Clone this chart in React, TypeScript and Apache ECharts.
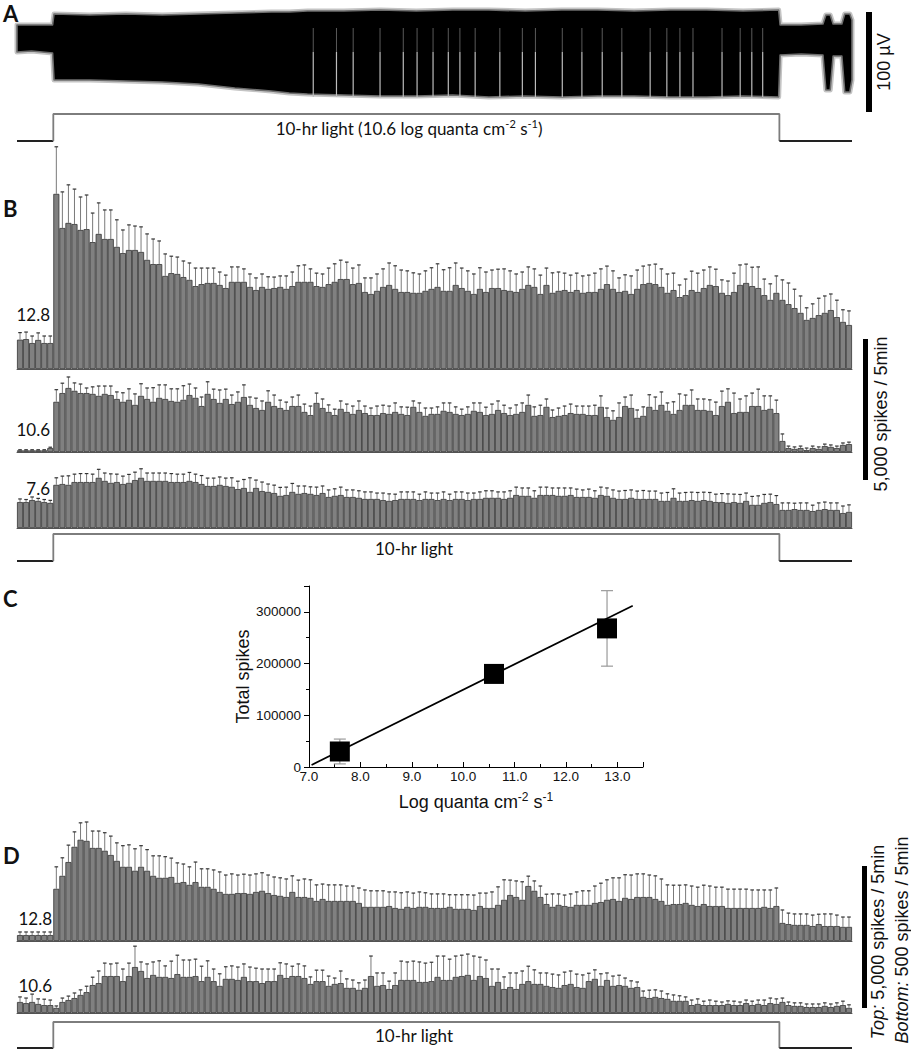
import React, { useEffect, useRef } from "react";
import * as echarts from "echarts";

// ---------------- 5-min bins: 0.5 h dark, 10 h light, 1 h dark (138 bins) ----------------
const binLabels = Array.from({ length: 138 }, (_, i) => String(i));

// Panel B, 12.8 log quanta (spikes / 5 min)
const b128Mean = [
  1040, 1060, 920, 1030, 920, 920,
  6210, 5000, 5180, 5140, 4930, 4960, 4500, 4790, 4610, 4610,
  4330, 4110, 4220, 4220, 4150, 3870, 3720, 3720, 3300, 3400,
  3370, 3260, 3160, 2940, 3010, 3050, 3050, 2980, 2870, 3090,
  3090, 3090, 2910, 2800, 2910, 2840, 2870, 2910, 2840, 2940,
  3090, 3090, 3090, 2940, 2910, 3010, 3090, 3190, 3190, 3010,
  3050, 2730, 2660, 2770, 2910, 2980, 2840, 2730, 2730, 2700,
  2700, 2770, 2840, 2910, 2770, 2770, 2980, 2870, 2770, 2660,
  2840, 2730, 2870, 2870, 2800, 2770, 2730, 2840, 2980, 2910,
  2660, 2980, 2700, 2770, 2800, 2730, 2800, 2700, 2730, 2730,
  2840, 3010, 2840, 2730, 2770, 2660, 2840, 3010, 3050, 3010,
  2910, 2700, 2800, 2550, 2620, 2800, 2730, 2870, 2980, 2940,
  2700, 2620, 2730, 2980, 3050, 2940, 2870, 2620, 2450, 2700,
  2450, 2300, 2160, 1990, 1740, 1810, 1910, 1990, 2090, 1840,
  1670, 1560,
];
const b128Err = [
  250, 250, 250, 250, 250, 250,
  1670, 1280, 1350, 1240, 1170, 1210, 1030, 1100, 1030, 1030,
  960, 820, 890, 850, 890, 920, 890, 820, 780, 600,
  600, 570, 600, 640, 570, 530, 530, 460, 460, 530,
  530, 460, 460, 430, 460, 430, 390, 390, 460, 500,
  570, 600, 460, 460, 460, 570, 640, 670, 600, 570,
  640, 500, 570, 600, 640, 780, 820, 780, 750, 710,
  670, 710, 750, 820, 750, 820, 780, 710, 710, 710,
  750, 710, 640, 670, 750, 710, 640, 600, 640, 640,
  670, 600, 710, 670, 600, 600, 600, 600, 600, 670,
  710, 640, 640, 500, 570, 640, 670, 640, 640, 710,
  640, 670, 600, 430, 570, 670, 670, 640, 640, 600,
  460, 500, 670, 710, 670, 670, 750, 570, 570, 600,
  710, 750, 670, 600, 430, 500, 600, 600, 570, 600,
  430, 500,
];

// Panel B, 10.6 log quanta
const b106Mean = [
  60, 60, 60, 60, 60, 140,
  1780, 2090, 2270, 2170, 2090, 2090, 2060, 1990, 2060, 2020,
  1880, 1780, 1850, 1670, 1990, 1880, 1780, 1920, 1880, 1810,
  1780, 1850, 2020, 1920, 1630, 2060, 1880, 1740, 1880, 1700,
  1780, 1950, 1670, 1560, 1490, 1780, 1630, 1560, 1490, 1630,
  1630, 1420, 1310, 1740, 1560, 1420, 1310, 1530, 1420, 1350,
  1490, 1380, 1310, 1310, 1380, 1350, 1420, 1350, 1310, 1600,
  1420, 1280, 1350, 1350, 1460, 1420, 1350, 1310, 1350, 1460,
  1420, 1310, 1350, 1490, 1380, 1310, 1350, 1420, 1670, 1280,
  1310, 1600, 1240, 1280, 1310, 1380, 1350, 1350, 1310, 1310,
  1600, 1240, 1140, 1240, 1630, 1560, 1210, 1280, 1600, 1490,
  1670, 1460, 1350, 1490, 1670, 1670, 1490, 1490, 1460, 1310,
  1630, 1780, 1380, 1420, 1420, 1630, 1630, 1490, 1530, 1380,
  390, 140, 110, 140, 70, 140, 110, 210, 180, 140,
  250, 280,
];
const b106Err = [
  20, 20, 20, 20, 20, 30,
  430, 350, 390, 280, 320, 180, 250, 350, 280, 320,
  250, 320, 390, 390, 430, 390, 500, 460, 500, 430,
  460, 500, 390, 350, 320, 430, 350, 460, 350, 320,
  350, 430, 280, 350, 320, 390, 390, 280, 280, 320,
  390, 280, 320, 350, 320, 250, 210, 280, 280, 280,
  320, 250, 250, 320, 280, 280, 320, 250, 280, 210,
  320, 280, 210, 250, 280, 320, 250, 210, 250, 280,
  320, 280, 350, 320, 280, 250, 320, 320, 350, 320,
  350, 280, 250, 280, 320, 320, 280, 280, 320, 350,
  390, 320, 320, 500, 320, 460, 280, 320, 430, 460,
  460, 280, 430, 570, 350, 530, 390, 390, 390, 460,
  530, 460, 710, 460, 570, 460, 600, 500, 460, 460,
  250, 70, 70, 70, 70, 70, 70, 70, 70, 70,
  70, 70,
];

// Panel B, 7.6 log quanta
const b76Mean = [
  920, 920, 990, 960, 920, 890,
  1530, 1560, 1530, 1630, 1630, 1630, 1630, 1780, 1670, 1600,
  1630, 1560, 1600, 1700, 1780, 1670, 1670, 1670, 1670, 1630,
  1630, 1630, 1670, 1630, 1560, 1490, 1490, 1530, 1490, 1460,
  1380, 1420, 1280, 1420, 1310, 1280, 1240, 1140, 1170, 1280,
  1210, 1240, 1210, 1170, 1240, 1100, 1140, 1170, 1100, 1100,
  1070, 1030, 1030, 1030, 990, 960, 990, 1030, 1030, 1030,
  990, 1030, 1030, 990, 1030, 990, 1030, 1030, 990, 1030,
  1030, 1070, 1070, 1070, 1030, 1070, 1170, 1140, 1140, 1070,
  1170, 1170, 1170, 1140, 1140, 1170, 1100, 1100, 1100, 1070,
  1170, 1140, 1070, 1030, 1030, 1070, 1030, 1030, 1030, 1030,
  960, 960, 1070, 960, 960, 990, 960, 990, 960, 920,
  920, 890, 920, 890, 960, 820, 820, 890, 920, 850,
  640, 640, 670, 640, 640, 600, 640, 670, 640, 640,
  530, 570,
];
const b76Err = [
  110, 90, 110, 90, 90, 90,
  250, 280, 320, 280, 300, 300, 280, 300, 280, 320,
  280, 280, 300, 280, 320, 280, 280, 280, 280, 300,
  280, 280, 300, 280, 300, 280, 280, 280, 280, 320,
  280, 300, 500, 280, 320, 280, 280, 300, 280, 300,
  280, 250, 250, 280, 250, 250, 250, 280, 250, 250,
  250, 250, 250, 210, 250, 250, 210, 250, 250, 250,
  210, 250, 210, 250, 250, 210, 250, 250, 250, 210,
  250, 250, 250, 210, 250, 250, 280, 280, 280, 250,
  280, 280, 250, 280, 280, 250, 280, 250, 280, 250,
  280, 280, 280, 280, 300, 280, 280, 300, 280, 280,
  280, 300, 320, 280, 300, 280, 300, 280, 300, 280,
  300, 320, 280, 300, 280, 300, 320, 300, 280, 300,
  250, 250, 210, 250, 250, 210, 250, 250, 250, 250,
  250, 250,
];

// Panel D, 12.8 log quanta (top, 5,000 spikes scale)
const d128Mean = [
  210, 210, 210, 210, 210, 210,
  1850, 2310, 2800, 3340, 3590, 3550, 3300, 3300, 3200, 3050,
  2840, 2630, 2630, 2490, 2630, 2490, 2310, 2240, 2240, 2270,
  2060, 2090, 1990, 2090, 1920, 1920, 1850, 1740, 1670, 1670,
  1700, 1700, 1670, 1740, 1780, 1700, 1630, 1600, 1560, 1740,
  1560, 1560, 1530, 1420, 1490, 1420, 1420, 1420, 1420, 1420,
  1350, 1210, 1210, 1210, 1210, 1240, 1170, 1140, 1210, 1170,
  1210, 1210, 1170, 1170, 1170, 1210, 1140, 1140, 1140, 1100,
  1240, 1170, 1170, 1280, 1460, 1630, 1560, 1460, 1950, 1780,
  1560, 1310, 1210, 1280, 1240, 1210, 1280, 1280, 1280, 1350,
  1380, 1460, 1490, 1420, 1530, 1490, 1560, 1560, 1560, 1490,
  1420, 1280, 1310, 1310, 1350, 1280, 1240, 1310, 1240, 1240,
  1240, 1170, 1170, 1170, 1170, 1170, 1170, 1210, 1170, 1240,
  640, 600, 570, 570, 570, 530, 600, 530, 530, 530,
  500, 500,
];
const d128Err = [
  110, 110, 110, 110, 110, 110,
  780, 640, 600, 530, 600, 670, 600, 600, 640, 670,
  640, 750, 780, 780, 750, 750, 710, 780, 750, 670,
  710, 640, 640, 710, 640, 640, 670, 710, 670, 710,
  640, 670, 670, 640, 640, 640, 640, 640, 640, 570,
  600, 640, 640, 570, 530, 570, 570, 570, 530, 530,
  530, 600, 570, 570, 570, 500, 570, 570, 530, 530,
  530, 500, 500, 500, 500, 430, 500, 500, 500, 530,
  460, 530, 570, 640, 710, 530, 570, 640, 350, 350,
  390, 350, 460, 390, 390, 460, 460, 500, 500, 600,
  670, 710, 750, 820, 820, 850, 820, 820, 780, 820,
  780, 710, 670, 670, 640, 670, 670, 670, 710, 670,
  670, 670, 670, 670, 670, 640, 640, 600, 640, 640,
  460, 390, 390, 390, 390, 390, 350, 430, 430, 390,
  350, 350,
];

// Panel D, 10.6 log quanta (bottom, 500 spikes scale)
const d106Mean = [
  39, 35, 39, 32, 28, 28,
  18, 39, 46, 53, 64, 74, 99, 106, 131, 131,
  131, 113, 131, 163, 149, 124, 135, 128, 128, 124,
  138, 128, 128, 131, 113, 128, 113, 96, 121, 121,
  117, 128, 113, 113, 106, 113, 113, 135, 124, 131,
  131, 124, 103, 113, 113, 96, 103, 106, 89, 89,
  82, 89, 131, 96, 99, 85, 99, 117, 117, 117,
  110, 110, 113, 128, 117, 117, 128, 131, 135, 117,
  131, 124, 96, 110, 85, 92, 85, 103, 113, 103,
  103, 96, 92, 89, 99, 103, 92, 89, 113, 121,
  96, 117, 96, 99, 96, 89, 92, 57, 53, 57,
  53, 50, 43, 43, 43, 28, 32, 28, 28, 28,
  28, 32, 28, 28, 35, 28, 32, 28, 35, 32,
  39, 28, 25, 25, 21, 21, 21, 25, 21, 25,
  28, 18,
];
const d106Err = [
  18, 18, 28, 18, 21, 18,
  7, 14, 14, 18, 18, 21, 28, 43, 46, 43,
  46, 43, 46, 74, 32, 50, 46, 57, 39, 60,
  67, 60, 60, 60, 53, 57, 43, 43, 43, 46,
  46, 46, 50, 46, 50, 43, 43, 43, 50, 35,
  43, 43, 25, 39, 39, 35, 21, 43, 32, 28,
  25, 28, 71, 46, 43, 28, 43, 67, 64, 67,
  71, 67, 67, 74, 85, 74, 74, 74, 74, 85,
  67, 64, 60, 46, 43, 50, 57, 46, 53, 50,
  39, 46, 46, 46, 46, 46, 46, 46, 28, 32,
  43, 25, 35, 35, 28, 25, 18, 21, 28, 25,
  25, 18, 21, 18, 14, 18, 18, 14, 18, 14,
  11, 11, 14, 11, 11, 14, 14, 18, 18, 18,
  14, 11, 11, 11, 11, 11, 11, 11, 11, 11,
  14, 11,
];

// ---------------- Panel A: extracellular trace envelope (µV) ----------------
const traceHours = [-0.5, -0.3, -0.01, 0.01, 0.5, 1, 1.5, 2, 2.5, 3, 3.25, 3.5, 4, 4.5, 5, 5.5, 6, 6.5, 7, 7.5, 8, 8.5, 9, 9.5, 9.99, 10.01, 10.3, 10.6, 10.64, 10.7, 10.74, 10.86, 10.9, 10.97, 11.0];
const traceUpperUV = [25, 25, 25, 36, 35, 36, 35, 36, 37, 38, 38, 39, 39, 40, 39, 40, 40, 39, 40, 40, 39, 40, 40, 39, 40, 25, 25, 26, 35, 35, 26, 26, 36, 36, 30];
const traceLowerUV = [-2, -1, -3, -30, -30, -31, -32, -34, -38, -41, -43, -44, -45, -46, -46, -45, -47, -46, -47, -46, -46, -47, -47, -46, -47, -5, -4, -5, -40, -40, -6, -6, -42, -42, -30];
const pauseHours = [3.58, 3.9, 4.13, 4.5, 4.82, 5.01, 5.23, 5.44, 5.6, 5.81, 6.15, 6.46, 6.64, 7.01, 7.28, 7.56, 7.83, 8.22, 8.45, 8.63, 8.81, 9.21, 9.46, 9.62, 9.77];

// ---------------- Light protocol ----------------
const lightOnHours = [0, 0, 10, 10];
const lightOnLevel = [0, 1, 1, 0];
const darkPreHours = [-0.5, 0];
const darkPostHours = [10, 11];

// ---------------- Panel C ----------------
const quantaLog = [7.6, 10.6, 12.8];
const totalSpikes = [30000, 180000, 268000];
const totalSpikesErr = [24000, 16000, 73000];
const fitLog = [7.05, 13.3];
const fitSpikes = [4000, 312000];

const CAL = "Lato, 'Open Sans', sans-serif";
const ARIAL = "'Liberation Sans', Arial, sans-serif";

const gridDefs = [
  { left: 17, width: 835, top: 0, height: 100 },
  { left: 17, width: 835, top: 114, height: 27 },
  { left: 17, width: 835, top: 143.4, height: 225.6 },
  { left: 17, width: 835, top: 367.4, height: 84.6 },
  { left: 17, width: 835, top: 471.6, height: 56.4 },
  { left: 17, width: 835, top: 534, height: 27 },
  { left: 309, width: 334, top: 586, height: 181 },
  { left: 17, width: 835, top: 800, height: 141 },
  { left: 17, width: 835, top: 928.4, height: 84.6 },
  { left: 17, width: 835, top: 1022, height: 26 },
];

function hiddenVal(gi: number, min: number, max: number) {
  return { gridIndex: gi, type: "value", min, max, show: false, splitLine: { show: false } };
}
function catAxis(gi: number) {
  return {
    gridIndex: gi,
    type: "category",
    data: binLabels,
    boundaryGap: true,
    axisLine: { show: true, lineStyle: { color: "#555", width: 1 } },
    axisTick: { show: false },
    axisLabel: { show: false },
    splitLine: { show: false },
  };
}
function barSeries(ai: number, mean: number[]) {
  return {
    type: "bar",
    xAxisIndex: ai,
    yAxisIndex: ai,
    data: mean,
    barCategoryGap: "0%",
    barGap: "0%",
    silent: true,
    z: 2,
    itemStyle: { color: "#808080", borderColor: "#333", borderWidth: 0.8 },
  };
}
function errSeries(ai: number, mean: number[], err: number[]) {
  return {
    type: "custom",
    xAxisIndex: ai,
    yAxisIndex: ai,
    silent: true,
    clip: false,
    z: 3,
    data: mean.map((v, i) => [i, v, err[i]]),
    renderItem: (_p: any, api: any) => {
      const i = api.value(0);
      const v = api.value(1);
      const e = api.value(2);
      const p0 = api.coord([i, v]);
      const p1 = api.coord([i, v + e]);
      return {
        type: "group",
        children: [
          { type: "line", shape: { x1: p0[0], y1: p0[1], x2: p1[0], y2: p1[1] }, style: { stroke: "#7a7a7a", lineWidth: 1 } },
          { type: "line", shape: { x1: p1[0] - 1.8, y1: p1[1], x2: p1[0] + 1.8, y2: p1[1] }, style: { stroke: "#333", lineWidth: 1.2 } },
        ],
      };
    },
  };
}
function lightSeries(ai: number) {
  const base = { type: "line", xAxisIndex: ai, yAxisIndex: ai, symbol: "none", showSymbol: false, clip: false, silent: true };
  return [
    { ...base, data: darkPreHours.map((h) => [h, 0]), lineStyle: { color: "#222", width: 2 } },
    { ...base, data: lightOnHours.map((h, k) => [h, lightOnLevel[k]]), lineStyle: { color: "#7d7d7d", width: 1.8 } },
    { ...base, data: darkPostHours.map((h) => [h, 0]), lineStyle: { color: "#222", width: 2 } },
  ];
}

function txt(text: string, x: number, y: number, o: any = {}) {
  const align = o.align || "left";
  const va = o.va || "middle";
  return {
    type: "text",
    x,
    y,
    rotation: o.rot || 0,
    silent: true,
    style: {
      text,
      fill: o.color || "#111",
      fontSize: o.size || 17,
      fontFamily: o.family || CAL,
      fontWeight: o.weight || "normal",
      fontStyle: o.style || "normal",
      align,
      textAlign: align,
      verticalAlign: va,
      textVerticalAlign: va,
      lineHeight: o.lineHeight,
      rich: o.rich,
    },
  };
}

function tracePolygon(api: any) {
  const pts: number[][] = [];
  for (let k = 0; k < traceHours.length; k++) pts.push(api.coord([traceHours[k], traceUpperUV[k]]));
  for (let k = traceHours.length - 1; k >= 0; k--) pts.push(api.coord([traceHours[k], traceLowerUV[k]]));
  return pts;
}

function buildOption() {
  const supRich = (size: number, fam: string) => ({
    sup: { fontSize: size, fontFamily: fam, fill: "#111", color: "#111", verticalAlign: "top", lineHeight: size + 1 },
    it: { fontStyle: "italic", fontSize: 18, fontFamily: ARIAL, fill: "#111", color: "#111" },
  });

  const xAxis: any[] = [
    hiddenVal(0, -0.5, 11),
    hiddenVal(1, -0.5, 11),
    catAxis(2),
    catAxis(3),
    catAxis(4),
    hiddenVal(5, -0.5, 11),
    {
      gridIndex: 6,
      type: "value",
      min: 7,
      max: 13.5,
      interval: 1,
      axisLine: { show: true, onZero: false, lineStyle: { color: "#000", width: 1 } },
      axisTick: { show: true, inside: true, length: 5, lineStyle: { color: "#000" } },
      minorTick: { show: true, splitNumber: 2, length: 3, lineStyle: { color: "#000" } },
      splitLine: { show: false },
      minorSplitLine: { show: false },
      axisLabel: {
        margin: 2,
        fontFamily: ARIAL,
        fontSize: 13.5,
        color: "#111",
        formatter: (v: number) => (v > 13.01 ? "" : v.toFixed(1)),
      },
      name: "Log quanta cm{sup|-2} s{sup|-1}",
      nameLocation: "middle",
      nameGap: 24,
      nameTextStyle: { fontFamily: ARIAL, fontSize: 18, color: "#111", lineHeight: 22, rich: supRich(12, ARIAL) },
    },
    catAxis(7),
    catAxis(8),
    hiddenVal(9, -0.5, 11),
  ];
  const yAxis: any[] = [
    hiddenVal(0, -50, 50),
    hiddenVal(1, 0, 1),
    hiddenVal(2, 0, 8000),
    hiddenVal(3, 0, 3000),
    hiddenVal(4, 0, 2000),
    hiddenVal(5, 0, 1),
    {
      gridIndex: 6,
      type: "value",
      min: 0,
      max: 350000,
      interval: 100000,
      axisLine: { show: true, lineStyle: { color: "#000", width: 1 } },
      axisTick: { show: true, length: 5, lineStyle: { color: "#000" } },
      minorTick: { show: true, splitNumber: 2, length: 3, lineStyle: { color: "#000" } },
      splitLine: { show: false },
      minorSplitLine: { show: false },
      axisLabel: {
        margin: 8,
        fontFamily: ARIAL,
        fontSize: 13.5,
        color: "#111",
        formatter: (v: number) => (v > 300001 ? "" : String(v)),
      },
      name: "Total spikes",
      nameLocation: "middle",
      nameGap: 57,
      nameTextStyle: { fontFamily: ARIAL, fontSize: 18, color: "#111" },
    },
    hiddenVal(7, 0, 5000),
    hiddenVal(8, 0, 300),
    hiddenVal(9, 0, 1),
  ];

  const series: any[] = [
    {
      type: "custom",
      xAxisIndex: 0,
      yAxisIndex: 0,
      silent: true,
      clip: false,
      data: [[0, 0]],
      renderItem: (_p: any, api: any) => {
        const pts = tracePolygon(api);
        return {
          type: "group",
          children: [
            { type: "polygon", shape: { points: pts }, style: { fill: "none", stroke: "#c4c4c4", lineWidth: 5, lineJoin: "round" } },
            { type: "polygon", shape: { points: pts }, style: { fill: "#000", stroke: "#6e6e6e", lineWidth: 1.6, lineJoin: "round" } },
          ],
        };
      },
      z: 2,
    },
    {
      type: "custom",
      xAxisIndex: 0,
      yAxisIndex: 0,
      silent: true,
      clip: false,
      z: 3,
      data: pauseHours.map((h) => [h]),
      renderItem: (_p: any, api: any) => {
        const h = api.value(0);
        const a = api.coord([h, 22]);
        const m = api.coord([h, -2]);
        const b = api.coord([h, -47]);
        return {
          type: "group",
          children: [
            { type: "line", shape: { x1: a[0], y1: a[1], x2: m[0], y2: m[1] }, style: { stroke: "#5a5a5a", lineWidth: 1 } },
            { type: "line", shape: { x1: m[0], y1: m[1], x2: b[0], y2: b[1] }, style: { stroke: "#bdbdbd", lineWidth: 1.2 } },
          ],
        };
      },
    },
    ...lightSeries(1),
    barSeries(2, b128Mean),
    errSeries(2, b128Mean, b128Err),
    barSeries(3, b106Mean),
    errSeries(3, b106Mean, b106Err),
    barSeries(4, b76Mean),
    errSeries(4, b76Mean, b76Err),
    ...lightSeries(5),
    {
      type: "custom",
      xAxisIndex: 6,
      yAxisIndex: 6,
      silent: true,
      z: 2,
      data: quantaLog.map((q, k) => [q, totalSpikes[k], totalSpikesErr[k]]),
      renderItem: (_p: any, api: any) => {
        const q = api.value(0);
        const v = api.value(1);
        const e = api.value(2);
        const a = api.coord([q, v + e]);
        const b = api.coord([q, v - e]);
        const st = { stroke: "#9a9a9a", lineWidth: 1.2 };
        return {
          type: "group",
          children: [
            { type: "line", shape: { x1: a[0], y1: a[1], x2: b[0], y2: b[1] }, style: st },
            { type: "line", shape: { x1: a[0] - 6, y1: a[1], x2: a[0] + 6, y2: a[1] }, style: st },
            { type: "line", shape: { x1: b[0] - 6, y1: b[1], x2: b[0] + 6, y2: b[1] }, style: st },
          ],
        };
      },
    },
    {
      type: "line",
      xAxisIndex: 6,
      yAxisIndex: 6,
      data: fitLog.map((q, k) => [q, fitSpikes[k]]),
      symbol: "none",
      silent: true,
      z: 3,
      lineStyle: { color: "#000", width: 1.7 },
    },
    {
      type: "scatter",
      xAxisIndex: 6,
      yAxisIndex: 6,
      data: quantaLog.map((q, k) => [q, totalSpikes[k]]),
      symbol: "rect",
      symbolSize: 20,
      silent: true,
      z: 4,
      itemStyle: { color: "#000", opacity: 1 },
    },
    barSeries(7, d128Mean),
    errSeries(7, d128Mean, d128Err),
    barSeries(8, d106Mean),
    errSeries(8, d106Mean, d106Err),
    ...lightSeries(9),
  ];

  const rich17 = supRich(11, CAL);
  const graphic: any[] = [
    txt("A", 3, 13, { size: 22, weight: "bold" }),
    txt("B", 3, 208, { size: 22, weight: "bold" }),
    txt("C", 3, 598, { size: 22, weight: "bold" }),
    txt("D", 3, 855, { size: 22, weight: "bold" }),
    txt("10-hr light (10.6 log quanta cm{sup|-2} s{sup|-1})", 409, 128, { align: "center", size: 17, lineHeight: 20, rich: rich17 }),
    txt("12.8", 50, 314, { align: "right", size: 17 }),
    txt("10.6", 50, 429, { align: "right", size: 17 }),
    txt("7.6", 50, 488, { align: "right", size: 17 }),
    txt("10-hr light", 414, 548, { align: "center", size: 17 }),
    txt("12.8", 52, 918, { align: "right", size: 17 }),
    txt("10.6", 52, 985, { align: "right", size: 17 }),
    txt("10-hr light", 414, 1035, { align: "center", size: 17 }),
    { type: "rect", shape: { x: 866, y: 12, width: 6, height: 100 }, style: { fill: "#000" }, silent: true },
    txt("100 µV", 884, 62, { align: "center", rot: Math.PI / 2, size: 18, family: ARIAL }),
    { type: "rect", shape: { x: 863, y: 339, width: 5, height: 141 }, style: { fill: "#000" }, silent: true },
    txt("5,000 spikes / 5min", 881, 414, { align: "center", rot: Math.PI / 2, size: 18, family: ARIAL }),
    { type: "rect", shape: { x: 862, y: 866, width: 5, height: 142 }, style: { fill: "#000" }, silent: true },
    txt("{it|Top:} 5,000 spikes / 5min", 878, 942, { align: "center", rot: Math.PI / 2, size: 18, family: ARIAL, rich: supRich(11, ARIAL) }),
    txt("{it|Bottom:} 500 spikes / 5min", 902, 940, { align: "center", rot: Math.PI / 2, size: 18, family: ARIAL, rich: supRich(11, ARIAL) }),
  ];

  return {
    animation: false,
    backgroundColor: "#ffffff",
    grid: gridDefs.map((g) => ({ ...g, containLabel: false })),
    xAxis,
    yAxis,
    series,
    graphic,
  };
}

export default function App() {
  const ref = useRef<HTMLDivElement>(null);
  useEffect(() => {
    if (!ref.current) return;
    const chart = echarts.init(ref.current, null, { renderer: "svg" });
    chart.setOption(buildOption() as any);
    return () => chart.dispose();
  }, []);
  return (
    <div
      ref={ref}
      style={{ position: "fixed", left: 0, top: 0, width: 911, height: 1050, background: "#fff" }}
    />
  );
}
